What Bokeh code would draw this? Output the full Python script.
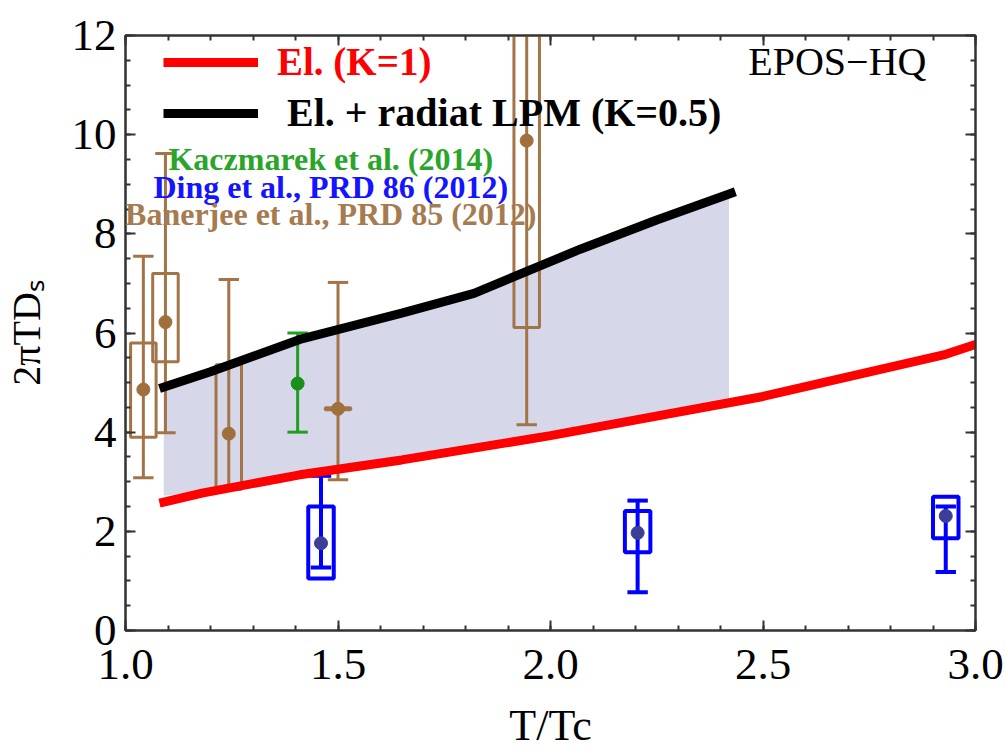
import numpy as np
from bokeh.plotting import figure
from bokeh.models import (FixedTicker, PrintfTickFormatter, LinearAxis, Legend,
                          LegendItem, Label, ColumnDataSource, CustomLabelingPolicy)
from bokeh.embed import file_html
from bokeh.resources import INLINE

# ---------------- data ----------------
# Elastic energy loss, K=1 (red)
el_x = [1.08, 1.18, 1.41, 1.65, 2.0, 2.5, 2.93, 3.0, 3.05]
el_y = [2.57, 2.77, 3.14, 3.44, 3.93, 4.72, 5.57, 5.77, 5.9]
# Elastic + radiative LPM, K=0.5 (black)
lpm_x = [1.08, 1.2, 1.41, 1.65, 1.82, 2.07, 2.25, 2.435]
lpm_y = [4.88, 5.22, 5.87, 6.4, 6.8, 7.69, 8.28, 8.85]
# shaded band between the two models
band_x = [1.09, 1.2, 1.41, 1.65, 1.82, 2.07, 2.25, 2.42]
band_lo = [2.72, 2.82, 3.17, 3.47, 3.72, 4.08, 4.36, 4.68]
band_hi = [4.85, 5.2, 5.85, 6.38, 6.78, 7.65, 8.25, 8.75]

# Banerjee et al., PRD 85 (2012)
ban_x = [1.042, 1.094, 1.243, 1.5, 1.944]
ban_y = [4.86, 6.22, 3.97, 4.47, 9.88]
ban_lo = [3.08, 3.99, 2.87, 3.04, 4.15]
ban_hi = [7.55, 9.62, 7.08, 7.02, 13.5]
ban_box_lo = [3.9, 5.42, 2.85, 4.45, 6.11]
ban_box_hi = [5.8, 7.2, 5.36, 4.49, 13.0]

# Ding et al., PRD 86 (2012)
ding_x = [1.46, 2.205, 2.93]
ding_y = [1.76, 1.97, 2.31]
ding_lo = [1.27, 0.77, 1.18]
ding_hi = [3.12, 2.62, 2.5]
ding_box_lo = [1.05, 1.58, 1.86]
ding_box_hi = [2.5, 2.41, 2.7]

# Kaczmarek et al. (2014)
kac_x = [1.405]
kac_y = [4.98]
kac_lo = [4.0]
kac_hi = [6.0]

x_ticks = [1.0, 1.5, 2.0, 2.5, 3.0]
y_ticks = [0, 2, 4, 6, 8, 10, 12]

# ---------------- styles ----------------
BROWN = "#a37447"
BROWN_PT = "#a0703c"
BLUE = "#0000ff"
BLUE_PT = "#3c3c9a"
GREEN = "#1f9f1f"
FRAME = "#333333"
SERIF = "Liberation Serif"
CAP = 0.024
BOX = 0.03

p = figure(width=1006, height=752, x_range=(1.0, 3.0), y_range=(0, 12),
           output_backend="svg", toolbar_location=None,
           min_border_left=125, min_border_right=31, min_border_top=35,
           min_border_bottom=122, x_axis_label="T/Tc", y_axis_label="2πTDₛ")
p.xgrid.visible = False
p.ygrid.visible = False
p.outline_line_color = FRAME
p.outline_line_width = 2
p.background_fill_color = "white"
p.border_fill_color = "white"

x_minor = [round(v, 2) for v in np.arange(1.0, 3.0001, 0.1)]
y_minor = [round(v, 2) for v in np.arange(0, 12.001, 0.5)]
xt = FixedTicker(ticks=x_ticks, minor_ticks=x_minor)
yt = FixedTicker(ticks=y_ticks, minor_ticks=y_minor)


def style_axis(ax, labels=True):
    ax.axis_line_color = FRAME
    ax.axis_line_width = 2
    ax.major_tick_line_color = FRAME
    ax.minor_tick_line_color = FRAME
    ax.major_tick_line_width = 2
    ax.minor_tick_line_width = 2
    ax.major_tick_in = 10
    ax.major_tick_out = 0
    ax.minor_tick_in = 5
    ax.minor_tick_out = 0
    if labels:
        ax.major_label_text_font = SERIF
        ax.major_label_text_font_size = "45px"
        ax.major_label_text_color = "black"
        ax.axis_label_text_font = SERIF
        ax.axis_label_text_font_style = "normal"
        ax.axis_label_text_font_size = "44px"
        ax.axis_label_text_color = "black"
    else:
        ax.major_label_text_font_size = "0px"
        ax.major_label_standoff = 0
        ax.major_label_policy = CustomLabelingPolicy(code="return new Set()")


p.xaxis.ticker = xt
p.xaxis.formatter = PrintfTickFormatter(format="%.1f")
p.yaxis.ticker = yt
p.yaxis.formatter = PrintfTickFormatter(format="%d")
style_axis(p.xaxis[0])
style_axis(p.yaxis[0])
p.xaxis.major_label_standoff = 19
p.xaxis.axis_label_standoff = 19
p.yaxis.major_label_standoff = 9
p.yaxis.axis_label_standoff = 20
p.yaxis.axis_label_text_font_size = "40px"

top_ax = LinearAxis(ticker=xt)
style_axis(top_ax, labels=False)
right_ax = LinearAxis(ticker=yt)
style_axis(right_ax, labels=False)
p.add_layout(top_ax, "above")
p.add_layout(right_ax, "right")

# band
p.varea(x=band_x, y1=band_lo, y2=band_hi, fill_color="#d7d7ea")


def bars(xs, ys, lo, hi, blo, bhi, col, lw, box=True):
    xs = np.array(xs)
    src = ColumnDataSource(dict(x=xs, y=ys, lo=lo, hi=hi, blo=blo, bhi=bhi,
                                cl=xs - CAP, cr=xs + CAP, bl=xs - BOX, br=xs + BOX))
    p.segment(x0="x", y0="lo", x1="x", y1="hi", source=src, line_color=col, line_width=lw)
    p.segment(x0="cl", y0="lo", x1="cr", y1="lo", source=src, line_color=col, line_width=lw)
    p.segment(x0="cl", y0="hi", x1="cr", y1="hi", source=src, line_color=col, line_width=lw)
    if box:
        p.quad(left="bl", right="br", bottom="blo", top="bhi", source=src,
               fill_color=None, line_color=col, line_width=lw)
    return src


ban_src = bars(ban_x, ban_y, ban_lo, ban_hi, ban_box_lo, ban_box_hi, BROWN, 3)
kac_src = bars(kac_x, kac_y, kac_lo, kac_hi, kac_lo, kac_hi, GREEN, 3, box=False)
ding_src = bars(ding_x, ding_y, ding_lo, ding_hi, ding_box_lo, ding_box_hi, BLUE, 4)

red_r = p.line(el_x, el_y, line_color="red", line_width=9)
blk_r = p.line(lpm_x, lpm_y, line_color="black", line_width=9)

p.scatter(x="x", y="y", source=ban_src, size=13, fill_color=BROWN_PT, line_color=BROWN_PT)
p.scatter(x="x", y="y", source=kac_src, size=13, fill_color="#1a8f1a", line_color="#1a8f1a")
p.scatter(x="x", y="y", source=ding_src, size=13, fill_color=BLUE_PT, line_color=BLUE_PT)


def make_legend(label, rend, color, loc, standoff, size):
    lg = Legend(items=[LegendItem(label=label, renderers=[rend])], location=loc,
                glyph_width=95, glyph_height=36, label_height=36, label_standoff=standoff,
                padding=0, margin=0, spacing=0, border_line_color=None,
                background_fill_alpha=0, label_text_font=SERIF,
                label_text_font_style="bold", label_text_font_size=size,
                label_text_color=color)
    p.add_layout(lg)


make_legend("El. (K=1)", red_r, "red", (38, 546), 19, "39px")
make_legend("El. + radiat LPM (K=0.5)", blk_r, "black", (38, 494), 29, "40px")

p.add_layout(Label(x=2.675, y=11.48, text="EPOS−HQ", text_font=SERIF,
                   text_font_size="40px", text_color="black", text_align="center",
                   text_baseline="alphabetic"))
for txt, yy, col in [("Kaczmarek et al. (2014)", 9.50, "#2aa52a"),
                     ("Ding et al., PRD 86 (2012)", 8.95, "#1414ff"),
                     ("Banerjee et al., PRD 85 (2012)", 8.39, "#a67b4f")]:
    p.add_layout(Label(x=1.483, y=yy, text=txt, text_font=SERIF, text_font_style="bold",
                       text_font_size="32px", text_color=col, text_align="center",
                       text_baseline="alphabetic"))

open("out.html", "w").write(file_html(p, INLINE))
